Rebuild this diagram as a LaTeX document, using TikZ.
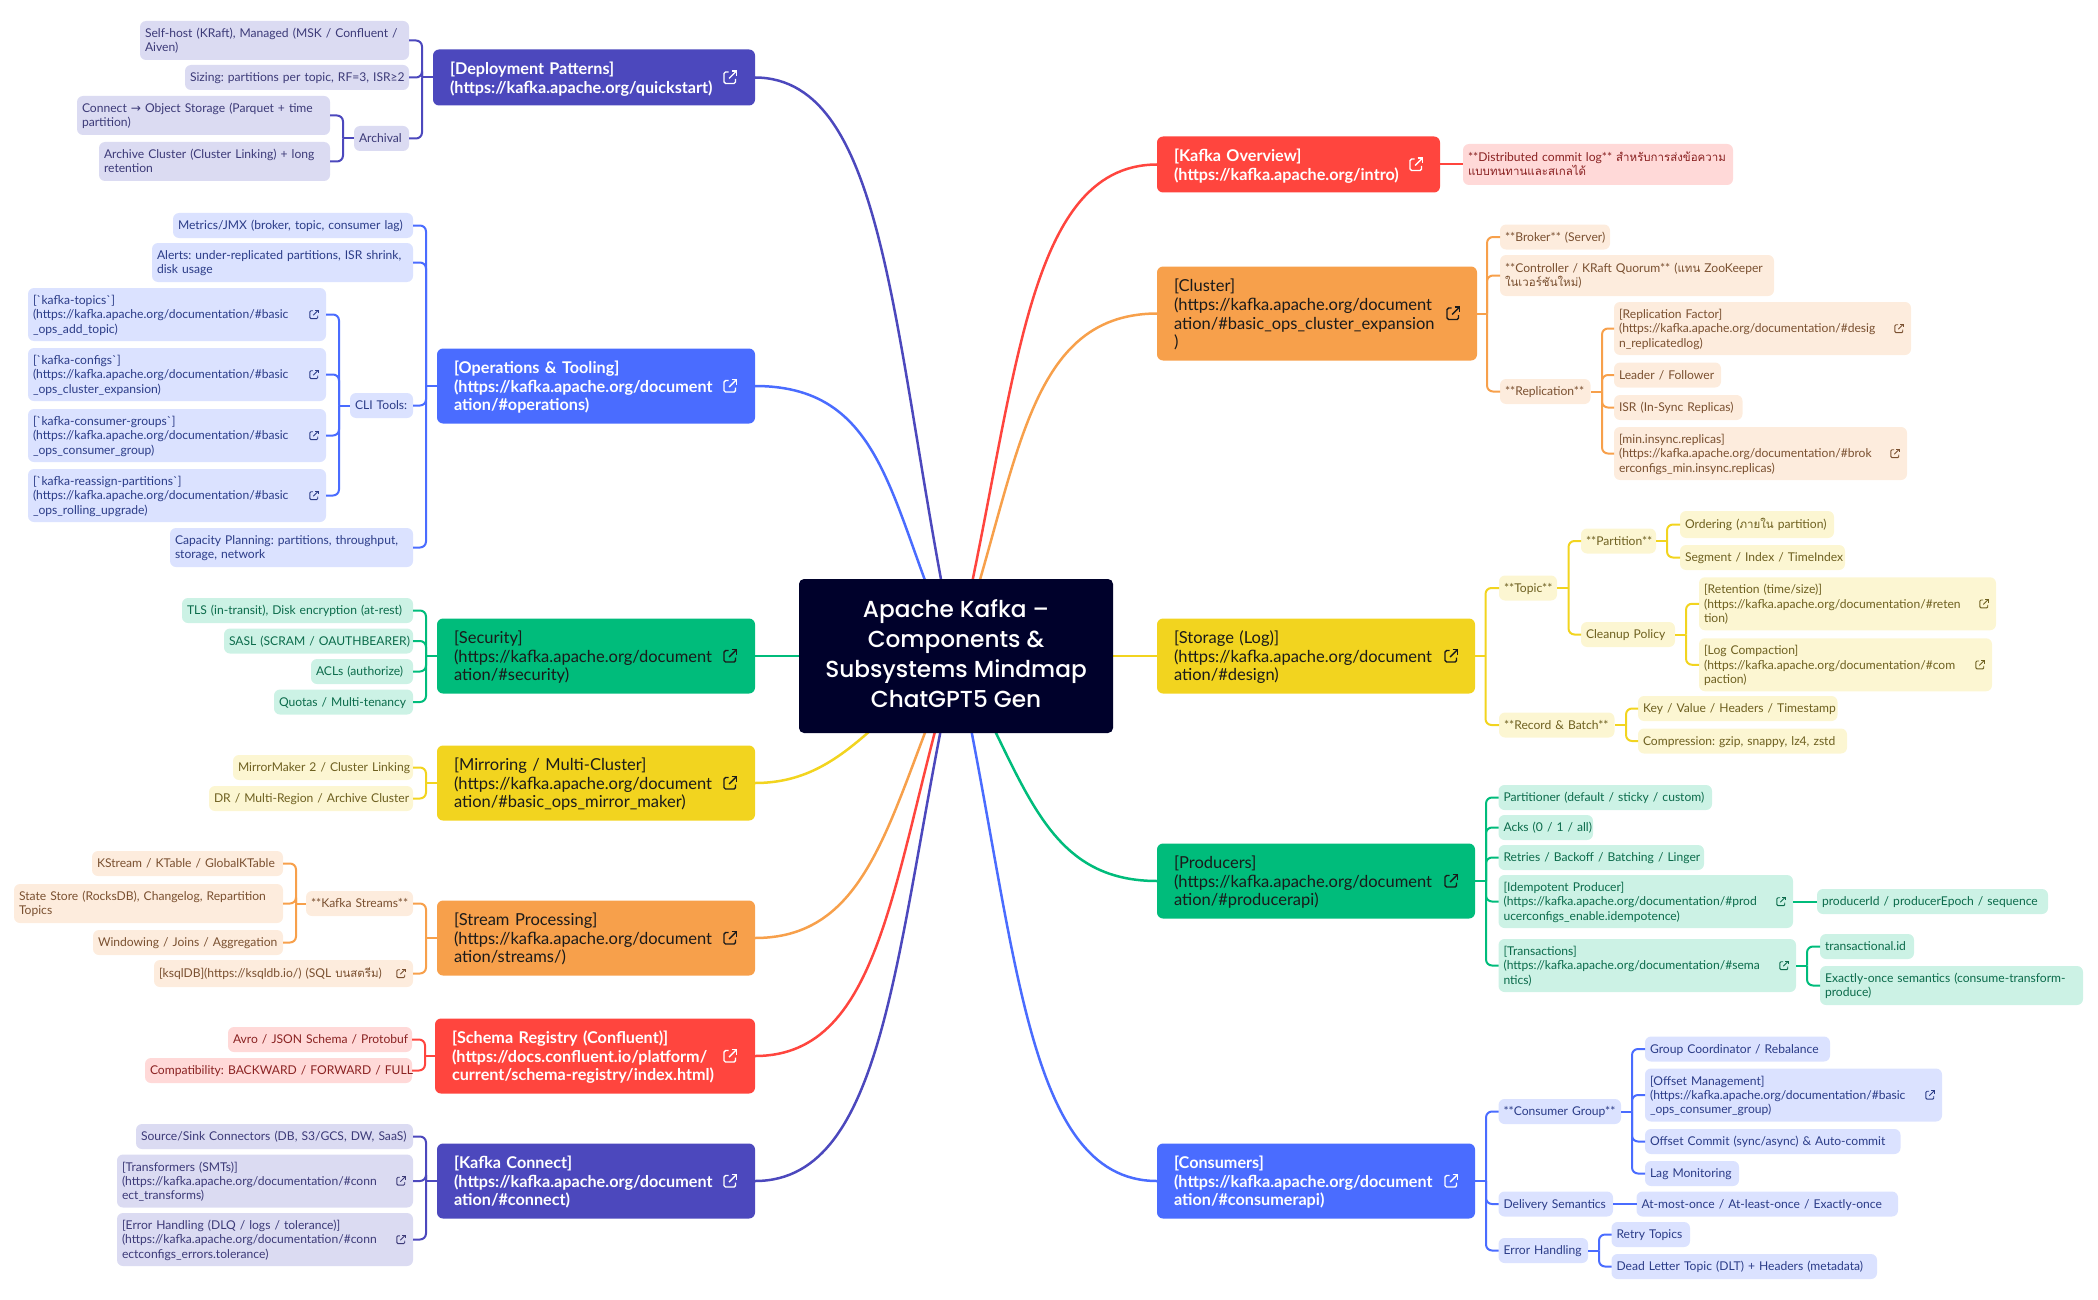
\documentclass[tikz,border=0pt]{standalone}
\usepackage{fontspec}
\setmainfont[WordSpace=0.55]{Lato}
\newfontfamily\thaifont[Script=Thai,Scale=0.95]{Loma}
\newfontfamily\symfont{DejaVu Sans}
\newfontfamily\kafkafont[UprightFont=* Medium]{Poppins}
\usetikzlibrary{positioning,backgrounds}
\definecolor{purmain}{HTML}{4C48BD}
\definecolor{purlight}{HTML}{DBDBF2}
\definecolor{purdark}{HTML}{3C3A78}
\definecolor{blumain}{HTML}{4A6CFF}
\definecolor{blulight}{HTML}{DBE2FF}
\definecolor{bludark}{HTML}{2B3C88}
\definecolor{grnmain}{HTML}{00BC7B}
\definecolor{grnlight}{HTML}{CCF2E5}
\definecolor{grndark}{HTML}{0B6B4B}
\definecolor{yelmain}{HTML}{F2D41F}
\definecolor{yellight}{HTML}{FCF6D2}
\definecolor{yeldark}{HTML}{6E6020}
\definecolor{ormain}{HTML}{F7A04B}
\definecolor{orlight}{HTML}{FDECDD}
\definecolor{ordark}{HTML}{7A5030}
\definecolor{redmain}{HTML}{FF453E}
\definecolor{redlight}{HTML}{FFD9D8}
\definecolor{reddark}{HTML}{8A2222}
\definecolor{kafkabg}{HTML}{00012B}
\definecolor{inkroot}{HTML}{1A1A1A}

\begin{document}
\frenchspacing
\begin{tikzpicture}[
    x=1pt, y=-1pt,
    kafkanode/.style = {
        rectangle, rounded corners=5pt, align=center, fill=kafkabg, text=white,
        font=\fontsize{23.2}{30}\kafkafont, minimum width=314pt, minimum height=154pt,
        inner sep=0pt, outer sep=0pt, execute at end node=\rule[-5pt]{0pt}{5pt}},
    rootnode/.style = {
        rectangle, rounded corners=6pt, align=left, fill=#1main,
        inner xsep=17pt, inner ysep=0pt, outer sep=0pt, minimum height=75pt,
        execute at begin node={\rightskip=-60pt plus 1fil\relax\rule{0pt}{18pt}},
        execute at end node=\strut},
    rootw/.style = {rootnode=#1, text=white,
        font=\fontsize{16.2}{18.6}\selectfont\bfseries},
    rootk/.style = {rootnode=#1, text=inkroot,
        font=\fontsize{16.5}{18.6}\selectfont},
    leaf/.style = {
        rectangle, rounded corners=6pt, align=left, fill=#1light, text=#1dark,
        font=\fontsize{12.1}{14.2}\selectfont,
        inner xsep=5pt, inner ysep=0pt, outer sep=0pt,
        execute at begin node={\rightskip=-60pt plus 1fil\relax\rule{0pt}{13pt}},
        execute at end node=\strut},
    lines1/.style = {minimum height=25pt},
    lines2/.style = {minimum height=39pt},
    lines3/.style = {minimum height=53pt},
    link/.style = {draw=#1main, line width=2pt, rounded corners=6pt},
    curve/.style = {draw=#1main, line width=2.5pt},
    pics/linkicon/.style = {code={
        \draw[line width=#1*1.4pt, rounded corners=#1*1.5pt]
            (-1.5*#1,-5.5*#1) -- (-6*#1,-5.5*#1) -- (-6*#1,6*#1) -- (5.5*#1,6*#1) -- (5.5*#1,1.5*#1);
        \draw[line width=#1*1.4pt] (-1*#1,1*#1) -- (6*#1,-6*#1);
        \draw[line width=#1*1.4pt] (1.5*#1,-6.5*#1) -- (6.5*#1,-6.5*#1) -- (6.5*#1,-1.5*#1);
    }}
                    ]
\useasboundingbox (0,0) rectangle (2098,1300);

% the centre
\node (kafka) [kafkanode] at (956,656) {Apache Kafka –\\Components \&\\Subsystems Mindmap\\ChatGPT5 Gen};

% the roots on the left
\node (sec) [rootk=grn,text width=284pt,left=44pt of kafka] {[Security]\\(https://kafka.apache.org/document\\ation/\#security)};
\node (ops) [rootw=blu,text width=284pt,above left=195pt and 0pt of sec.north east] {[Operations \& Tooling]\\(https://kafka.apache.org/document\\ation/\#operations)};
\node (dep) [rootw=pur,text width=288pt,minimum height=56pt,above left=243pt and 0pt of ops.north east] {[Deployment Patterns]\\(https://kafka.apache.org/quickstart)};
\node (mir) [rootk=yel,text width=284pt,below left=52pt and 0pt of sec.south east] {[Mirroring / Multi-Cluster]\\(https://kafka.apache.org/document\\ation/\#basic\_ops\_mirror\_maker)};
\node (str) [rootk=or,text width=284pt,below left=80pt and 0pt of mir.south east] {[Stream Processing]\\(https://kafka.apache.org/document\\ation/streams/)};
\node (sch) [rootw=red,text width=286pt,below left=43pt and 0pt of str.south east] {[Schema Registry (Confluent)]\\(https://docs.confluent.io/platform/\\current/schema-registry/index.html)};
\node (con) [rootw=pur,text width=284pt,below left=50pt and 0pt of sch.south east] {[Kafka Connect]\\(https://kafka.apache.org/document\\ation/\#connect)};

% the roots on the right
\node (sto) [rootk=yel,text width=284pt,right=44pt of kafka] {[Storage (Log)]\\(https://kafka.apache.org/document\\ation/\#design)};
\node (clu) [rootk=or,text width=286pt,minimum height=94pt,above right=258pt and 0pt of sto.north west] {[Cluster]\\(https://kafka.apache.org/document\\ation/\#basic\_ops\_cluster\_expansion\\)};
\node (ov) [rootw=red,text width=249pt,minimum height=56pt,above right=74pt and 0pt of clu.north west] {[Kafka Overview]\\(https://kafka.apache.org/intro)};
\node (prod) [rootk=grn,text width=284pt,below right=150pt and 0pt of sto.south west] {[Producers]\\(https://kafka.apache.org/document\\ation/\#producerapi)};
\node (cons) [rootw=blu,text width=284pt,below right=225pt and 0pt of prod.south west] {[Consumers]\\(https://kafka.apache.org/document\\ation/\#consumerapi)};

% deployment
\node (dep1) [leaf=pur,lines2,text width=259pt,above left=17.5pt and 24pt of dep.west] {Self-host (KRaft), Managed (MSK / Confluent /\\Aiven)};
\node (dep2) [leaf=pur,lines1,text width=214pt,below left=5pt and 0pt of dep1.south east] {Sizing: partitions per topic, RF=3, ISR≥2};
\node (dep3) [leaf=pur,lines1,text width=45pt,below left=36pt and 0pt of dep2.south east] {Archival};
\node (arc1) [leaf=pur,lines2,text width=243pt,above left=3.5pt and 24pt of dep3.west] {Connect {\symfont →} Object Storage (Parquet + time\\partition)};
\node (arc2) [leaf=pur,lines2,text width=221pt,below left=7pt and 0pt of arc1.south east] {Archive Cluster (Cluster Linking) + long\\retention};

% operations
\node (op1) [leaf=blu,lines1,text width=230pt,above left=148pt and 24pt of ops.west] {Metrics/JMX (broker, topic, consumer lag)};
\node (op2) [leaf=blu,lines2,text width=251pt,below left=5pt and 0pt of op1.south east] {Alerts: under-replicated partitions, ISR shrink,\\disk usage};
\node (op3) [leaf=blu,lines1,text width=53pt,below left=111pt and 0pt of op2.south east] {CLI Tools:};
\node (op4) [leaf=blu,lines2,text width=233pt,below left=110pt and 0pt of op3.south east] {Capacity Planning: partitions, throughput,\\storage, network};
\node (cli1) [leaf=blu,lines3,text width=288pt,above left=64.5pt and 24pt of op3.west] {[\textasciigrave kafka-topics\textasciigrave]\\(https://kafka.apache.org/documentation/\#basic\\\_ops\_add\_topic)};
\node (cli2) [leaf=blu,lines3,text width=288pt,below left=7pt and 0pt of cli1.south east] {[\textasciigrave kafka-configs\textasciigrave]\\(https://kafka.apache.org/documentation/\#basic\\\_ops\_cluster\_expansion)};
\node (cli3) [leaf=blu,lines3,text width=288pt,below left=8pt and 0pt of cli2.south east] {[\textasciigrave kafka-consumer-groups\textasciigrave]\\(https://kafka.apache.org/documentation/\#basic\\\_ops\_consumer\_group)};
\node (cli4) [leaf=blu,lines3,text width=288pt,below left=7pt and 0pt of cli3.south east] {[\textasciigrave kafka-reassign-partitions\textasciigrave]\\(https://kafka.apache.org/documentation/\#basic\\\_ops\_rolling\_upgrade)};

% security
\node (sec1) [leaf=grn,lines1,text width=221pt,above left=33pt and 24pt of sec.west] {TLS (in-transit), Disk encryption (at-rest)};
\node (sec2) [leaf=grn,lines1,text width=179pt,below left=5.5pt and 0pt of sec1.south east] {SASL (SCRAM / OAUTHBEARER)};
\node (sec3) [leaf=grn,lines1,text width=92pt,below left=5.5pt and 0pt of sec2.south east] {ACLs (authorize)};
\node (sec4) [leaf=grn,lines1,text width=129pt,below left=5.5pt and 0pt of sec3.south east] {Quotas / Multi-tenancy};

% mirroring
\node (mir1) [leaf=yel,lines1,text width=170pt,above left=3pt and 24pt of mir.west] {MirrorMaker 2 / Cluster Linking};
\node (mir2) [leaf=yel,lines1,text width=194pt,below left=6pt and 0pt of mir1.south east] {DR / Multi-Region / Archive Cluster};

% stream processing
\node (str1) [leaf=or,lines1,text width=97pt,above left=22pt and 24pt of str.west] {**Kafka Streams**};
\node (str2) [leaf=or,minimum height=27pt,text width=249pt,below left=44pt and 0pt of str1.south east] {[ksqlDB](https://ksqldb.io/) (SQL {\thaifont บนสตรีม})};
\node (kst1) [leaf=or,lines1,text width=181pt,above left=27.5pt and 23pt of str1.west] {KStream / KTable / GlobalKTable};
\node (kst2) [leaf=or,lines2,text width=259pt,below left=8pt and 0pt of kst1.south east] {State Store (RocksDB), Changelog, Repartition\\Topics};
\node (kst3) [leaf=or,lines1,text width=180pt,below left=7pt and 0pt of kst2.south east] {Windowing / Joins / Aggregation};

% schema registry
\node (sch1) [leaf=red,lines1,text width=174pt,above left=4pt and 23pt of sch.west] {Avro / JSON Schema / Protobuf};
\node (sch2) [leaf=red,lines1,text width=257pt,below left=6pt and 0pt of sch1.south east] {Compatibility: BACKWARD / FORWARD / FULL};

% kafka connect
\node (con1) [leaf=pur,lines1,text width=267pt,above left=32pt and 24pt of con.west] {Source/Sink Connectors (DB, S3/GCS, DW, SaaS)};
\node (con2) [leaf=pur,lines3,text width=286pt,below left=5.5pt and 0pt of con1.south east] {[Transformers (SMTs)]\\(https://kafka.apache.org/documentation/\#conn\\ect\_transforms)};
\node (con3) [leaf=pur,lines3,text width=286pt,below left=5.5pt and 0pt of con2.south east] {[Error Handling (DLQ / logs / tolerance)]\\(https://kafka.apache.org/documentation/\#conn\\ectconfigs\_errors.tolerance)};

% overview
\node (ov1) [leaf=red,minimum height=41pt,text width=260pt,right=23pt of ov] {**Distributed commit log** {\thaifont สำหรับการส่งข้อความ}\\{\thaifont แบบทนทานและสเกลได้}};

% cluster
\node (clu1) [leaf=or,lines1,text width=100pt,above right=64pt and 23pt of clu.east] {**Broker** (Server)};
\node (clu2) [leaf=or,minimum height=41pt,text width=264pt,below right=5.5pt and 0pt of clu1.south west] {**Controller / KRaft Quorum** ({\thaifont แทน} ZooKeeper\\{\thaifont ในเวอร์ชันใหม่})};
\node (clu3) [leaf=or,lines1,text width=80.5pt,below right=83pt and 0pt of clu2.south west] {**Replication**};
\node (rep1) [leaf=or,lines3,text width=287pt,above right=36.5pt and 23.5pt of clu3.east] {[Replication Factor]\\(https://kafka.apache.org/documentation/\#desig\\n\_replicatedlog)};
\node (rep2) [leaf=or,lines1,text width=97pt,below right=7.5pt and 0pt of rep1.south west] {Leader / Follower};
\node (rep3) [leaf=or,lines1,text width=118.5pt,below right=7.5pt and 0pt of rep2.south west] {ISR (In-Sync Replicas)};
\node (rep4) [leaf=or,lines3,text width=283pt,below right=7pt and 0pt of rep3.south west] {[min.insync.replicas]\\(https://kafka.apache.org/documentation/\#brok\\erconfigs\_min.insync.replicas)};

% storage
\node (sto1) [leaf=yel,lines1,text width=48pt,above right=55.5pt and 24pt of sto.east] {**Topic**};
\node (sto2) [leaf=yel,lines1,text width=105.5pt,below right=112pt and 0pt of sto1.south west] {**Record \& Batch**};
\node (top1) [leaf=yel,lines1,text width=65pt,above right=34.5pt and 24pt of sto1.east] {**Partition**};
\node (top2) [leaf=yel,lines1,text width=84pt,below right=68.5pt and 0pt of top1.south west] {Cleanup Policy};
\node (par1) [leaf=yel,minimum height=27pt,text width=144pt,above right=3pt and 24pt of top1.east] {Ordering ({\thaifont ภายใน} partition)};
\node (par2) [leaf=yel,lines1,text width=155pt,below right=7pt and 0pt of par1.south west] {Segment / Index / TimeIndex};
\node (cle1) [leaf=yel,lines3,text width=287pt,above right=4.25pt and 24pt of top2.east] {[Retention (time/size)]\\(https://kafka.apache.org/documentation/\#reten\\tion)};
\node (cle2) [leaf=yel,lines3,text width=283pt,below right=8pt and 0pt of cle1.south west] {[Log Compaction]\\(https://kafka.apache.org/documentation/\#com\\paction)};
\node (rec1) [leaf=yel,lines1,text width=189.5pt,above right=4pt and 23.5pt of sto2.east] {Key / Value / Headers / Timestamp};
\node (rec2) [leaf=yel,lines1,text width=199pt,below right=7.5pt and 0pt of rec1.south west] {Compression: gzip, snappy, lz4, zstd};

% producers
\node (pro1) [leaf=grn,lines1,text width=203.5pt,above right=71pt and 23.5pt of prod.east] {Partitioner (default / sticky / custom)};
\node (pro2) [leaf=grn,lines1,text width=84.5pt,below right=5pt and 0pt of pro1.south west] {Acks (0 / 1 / all)};
\node (pro3) [leaf=grn,lines1,text width=195.5pt,below right=5pt and 0pt of pro2.south west] {Retries / Backoff / Batching / Linger};
\node (pro4) [leaf=grn,lines3,text width=284.5pt,below right=5pt and 0pt of pro3.south west] {[Idempotent Producer]\\(https://kafka.apache.org/documentation/\#prod\\ucerconfigs\_enable.idempotence)};
\node (pro5) [leaf=grn,lines3,text width=287.5pt,below right=11pt and 0pt of pro4.south west] {[Transactions]\\(https://kafka.apache.org/documentation/\#sema\\ntics)};
\node (idm1) [leaf=grn,lines1,text width=221pt,right=24pt of pro4] {producerId / producerEpoch / sequence};
\node (trn1) [leaf=grn,lines1,text width=84pt,above right=6.5pt and 24pt of pro5.east] {transactional.id};
\node (trn2) [leaf=grn,lines2,text width=253pt,below right=7pt and 0pt of trn1.south west] {Exactly-once semantics (consume-transform-\\produce)};

% consumers
\node (cns1) [leaf=blu,lines1,text width=112.5pt,above right=57pt and 23.5pt of cons.east] {**Consumer Group**};
\node (cns2) [leaf=blu,lines1,text width=104.5pt,below right=67.5pt and 0pt of cns1.south west] {Delivery Semantics};
\node (cns3) [leaf=blu,lines1,text width=79.5pt,below right=21.5pt and 0pt of cns2.south west] {Error Handling};
\node (grp1) [leaf=blu,lines1,text width=175pt,above right=50pt and 24pt of cns1.east] {Group Coordinator / Rebalance};
\node (grp2) [leaf=blu,lines3,text width=287pt,below right=7pt and 0pt of grp1.south west] {[Offset Management]\\(https://kafka.apache.org/documentation/\#basic\\\_ops\_consumer\_group)};
\node (grp3) [leaf=blu,lines1,text width=245.5pt,below right=7.5pt and 0pt of grp2.south west] {Offset Commit (sync/async) \& Auto-commit};
\node (grp4) [leaf=blu,lines1,text width=84pt,below right=7pt and 0pt of grp3.south west] {Lag Monitoring};
\node (del1) [leaf=blu,lines1,text width=251.5pt,right=23.5pt of cns2] {At-most-once / At-least-once / Exactly-once};
\node (err1) [leaf=blu,lines1,text width=68.5pt,above right=3.5pt and 23.5pt of cns3.east] {Retry Topics};
\node (err2) [leaf=blu,lines1,text width=255.5pt,below right=7pt and 0pt of err1.south west] {Dead Letter Topic (DLT) + Headers (metadata)};

% the trunks of the branches
\coordinate [left=11pt of dep.west] (depT);
\coordinate [left=11pt of dep3.west] (arcT);
\coordinate [left=11pt of ops.west] (opsT);
\coordinate [left=11pt of op3.west] (cliT);
\coordinate [left=11pt of sec.west] (secT);
\coordinate [left=11pt of mir.west] (mirT);
\coordinate [left=11pt of str.west] (strT);
\coordinate [left=10pt of str1.west] (kstT);
\coordinate [left=10pt of sch.west] (schT);
\coordinate [left=11pt of con.west] (conT);
\coordinate [right=10pt of clu.east] (cluT);
\coordinate [right=11.5pt of clu3.east] (repT);
\coordinate [right=10.5pt of sto.east] (stoT);
\coordinate [right=11.5pt of sto1.east] (topT);
\coordinate [right=11pt of top1.east] (parT);
\coordinate [right=11pt of top2.east] (cleT);
\coordinate [right=11.5pt of sto2.east] (recT);
\coordinate [right=11pt of prod.east] (proT);
\coordinate [right=11pt of pro5.east] (trnT);
\coordinate [right=11pt of cons.east] (cnsT);
\coordinate [right=11pt of cns1.east] (grpT);
\coordinate [right=11pt of cns3.east] (errT);

% the branches to the left
\draw[link=pur] (dep1.east) -| (depT);
\draw[link=pur] (dep2.east) -| (depT);
\draw[link=pur] (dep3.east) -| (depT);
\draw[link=pur] (depT) -- (dep.west);
\draw[link=pur] (arc1.east) -| (arcT);
\draw[link=pur] (arc2.east) -| (arcT);
\draw[link=pur] (arcT) -- (dep3.west);
\draw[link=blu] (op1.east) -| (opsT);
\draw[link=blu] (op2.east) -| (opsT);
\draw[link=blu] (op3.east) -| (opsT);
\draw[link=blu] (op4.east) -| (opsT);
\draw[link=blu] (opsT) -- (ops.west);
\draw[link=blu] (cli1.east) -| (cliT);
\draw[link=blu] (cli2.east) -| (cliT);
\draw[link=blu] (cli3.east) -| (cliT);
\draw[link=blu] (cli4.east) -| (cliT);
\draw[link=blu] (cliT) -- (op3.west);
\draw[link=grn] (sec1.east) -| (secT);
\draw[link=grn] (sec2.east) -| (secT);
\draw[link=grn] (sec3.east) -| (secT);
\draw[link=grn] (sec4.east) -| (secT);
\draw[link=grn] (secT) -- (sec.west);
\draw[link=yel] (mir1.east) -| (mirT);
\draw[link=yel] (mir2.east) -| (mirT);
\draw[link=yel] (mirT) -- (mir.west);
\draw[link=or] (str1.east) -| (strT);
\draw[link=or] (str2.east) -| (strT);
\draw[link=or] (strT) -- (str.west);
\draw[link=or] (kst1.east) -| (kstT);
\draw[link=or] (kst2.east) -| (kstT);
\draw[link=or] (kst3.east) -| (kstT);
\draw[link=or] (kstT) -- (str1.west);
\draw[link=red] (sch1.east) -| (schT);
\draw[link=red] (sch2.east) -| (schT);
\draw[link=red] (schT) -- (sch.west);
\draw[link=pur] (con1.east) -| (conT);
\draw[link=pur] (con2.east) -| (conT);
\draw[link=pur] (con3.east) -| (conT);
\draw[link=pur] (conT) -- (con.west);

% the branches to the right
\draw[link=red] (ov.east) -- (ov1.west);
\draw[link=or] (clu1.west) -| (cluT);
\draw[link=or] (clu2.west) -| (cluT);
\draw[link=or] (clu3.west) -| (cluT);
\draw[link=or] (cluT) -- (clu.east);
\draw[link=or] (rep1.west) -| (repT);
\draw[link=or] (rep2.west) -| (repT);
\draw[link=or] (rep3.west) -| (repT);
\draw[link=or] (rep4.west) -| (repT);
\draw[link=or] (repT) -- (clu3.east);
\draw[link=yel] (sto1.west) -| (stoT);
\draw[link=yel] (sto2.west) -| (stoT);
\draw[link=yel] (stoT) -- (sto.east);
\draw[link=yel] (top1.west) -| (topT);
\draw[link=yel] (top2.west) -| (topT);
\draw[link=yel] (topT) -- (sto1.east);
\draw[link=yel] (par1.west) -| (parT);
\draw[link=yel] (par2.west) -| (parT);
\draw[link=yel] (parT) -- (top1.east);
\draw[link=yel] (cle1.west) -| (cleT);
\draw[link=yel] (cle2.west) -| (cleT);
\draw[link=yel] (cleT) -- (top2.east);
\draw[link=yel] (rec1.west) -| (recT);
\draw[link=yel] (rec2.west) -| (recT);
\draw[link=yel] (recT) -- (sto2.east);
\draw[link=grn] (pro1.west) -| (proT);
\draw[link=grn] (pro2.west) -| (proT);
\draw[link=grn] (pro3.west) -| (proT);
\draw[link=grn] (pro4.west) -| (proT);
\draw[link=grn] (pro5.west) -| (proT);
\draw[link=grn] (proT) -- (prod.east);
\draw[link=grn] (pro4.east) -- (idm1.west);
\draw[link=grn] (trn1.west) -| (trnT);
\draw[link=grn] (trn2.west) -| (trnT);
\draw[link=grn] (trnT) -- (pro5.east);
\draw[link=blu] (cns1.west) -| (cnsT);
\draw[link=blu] (cns2.west) -| (cnsT);
\draw[link=blu] (cns3.west) -| (cnsT);
\draw[link=blu] (cnsT) -- (cons.east);
\draw[link=blu] (grp1.west) -| (grpT);
\draw[link=blu] (grp2.west) -| (grpT);
\draw[link=blu] (grp3.west) -| (grpT);
\draw[link=blu] (grp4.west) -| (grpT);
\draw[link=blu] (grpT) -- (cns1.east);
\draw[link=blu] (cns2.east) -- (del1.west);
\draw[link=blu] (err1.west) -| (errT);
\draw[link=blu] (err2.west) -| (errT);
\draw[link=blu] (errT) -- (cns3.east);

% the curves to the centre, behind it
    \begin{scope}[on background layer]
\draw[curve=pur] (dep.east) .. controls (890,78) and (892,350) .. (kafka.center);
\draw[curve=blu] (ops.east) .. controls (890,386) and (889,513) .. (kafka.center);
\draw[curve=grn] (sec.east) -- (kafka.center);
\draw[curve=yel] (mir.east) .. controls (840,783) and (875,716) .. (kafka.center);
\draw[curve=or] (str.east) .. controls (875,938) and (890,805) .. (kafka.center);
\draw[curve=red] (sch.east) .. controls (885,1056) and (892,868) .. (kafka.center);
\draw[curve=pur] (con.east) .. controls (890,1181) and (895,934) .. (kafka.center);
\draw[curve=red] (ov.west) .. controls (1022,165) and (1017,396) .. (kafka.center);
\draw[curve=or] (clu.west) .. controls (1022,314) and (1019,475) .. (kafka.center);
\draw[curve=yel] (sto.west) -- (kafka.center);
\draw[curve=grn] (prod.west) .. controls (1040,881) and (1025,775) .. (kafka.center);
\draw[curve=blu] (cons.west) .. controls (1022,1181) and (1017,934) .. (kafka.center);
    \end{scope}

% the link icons
\pic[white] at ([xshift=-25pt]dep.east) {linkicon=1};
\pic[white] at ([xshift=-25pt]ops.east) {linkicon=1};
\pic[inkroot] at ([xshift=-25pt]sec.east) {linkicon=1};
\pic[inkroot] at ([xshift=-25pt]mir.east) {linkicon=1};
\pic[inkroot] at ([xshift=-25pt]str.east) {linkicon=1};
\pic[white] at ([xshift=-25pt]sch.east) {linkicon=1};
\pic[white] at ([xshift=-25pt]con.east) {linkicon=1};
\pic[white] at ([xshift=-24pt]ov.east) {linkicon=1};
\pic[inkroot] at ([xshift=-24pt]clu.east) {linkicon=1};
\pic[inkroot] at ([xshift=-24pt]sto.east) {linkicon=1};
\pic[inkroot] at ([xshift=-24pt]prod.east) {linkicon=1};
\pic[white] at ([xshift=-24pt]cons.east) {linkicon=1};
\pic[bludark] at ([xshift=-12pt]cli1.east) {linkicon=.68};
\pic[bludark] at ([xshift=-12pt]cli2.east) {linkicon=.68};
\pic[bludark] at ([xshift=-12pt]cli3.east) {linkicon=.68};
\pic[bludark] at ([xshift=-12pt]cli4.east) {linkicon=.68};
\pic[ordark] at ([xshift=-12pt]str2.east) {linkicon=.68};
\pic[purdark] at ([xshift=-12pt]con2.east) {linkicon=.68};
\pic[purdark] at ([xshift=-12pt]con3.east) {linkicon=.68};
\pic[ordark] at ([xshift=-12pt]rep1.east) {linkicon=.68};
\pic[ordark] at ([xshift=-12pt]rep4.east) {linkicon=.68};
\pic[yeldark] at ([xshift=-12pt]cle1.east) {linkicon=.68};
\pic[yeldark] at ([xshift=-12pt]cle2.east) {linkicon=.68};
\pic[grndark] at ([xshift=-12pt]pro4.east) {linkicon=.68};
\pic[grndark] at ([xshift=-12pt]pro5.east) {linkicon=.68};
\pic[bludark] at ([xshift=-12pt]grp2.east) {linkicon=.68};
\end{tikzpicture}
\end{document}
